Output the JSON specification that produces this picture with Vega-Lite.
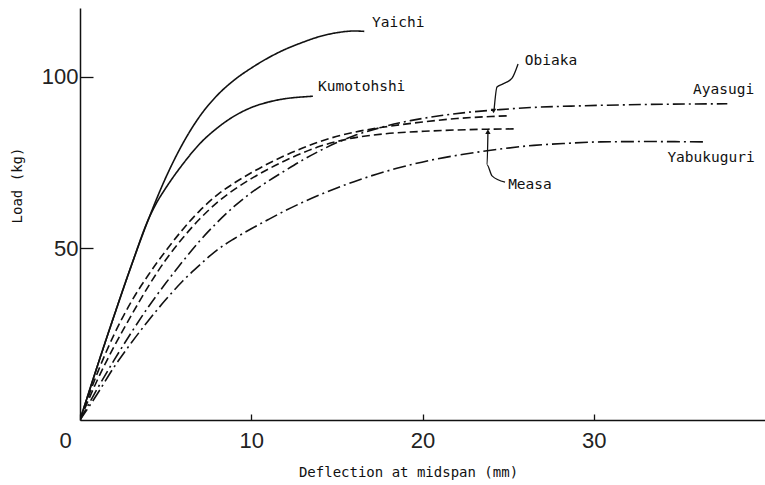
{
  "$schema": "https://vega.github.io/schema/vega-lite/v6.json",
  "autosize": {"type": "none"},
  "padding": {"left": 80, "top": 8, "right": 0, "bottom": 65},
  "width": 685,
  "height": 412,
  "background": "white",
  "config": {
    "view": {"stroke": null},
    "axis": {"domainColor": "#111", "domainWidth": 1.5, "tickColor": "#111", "tickWidth": 1.3, "grid": false,
             "labelFont": "Liberation Sans", "labelFontSize": 22, "labelColor": "#222",
             "titleFont": "DejaVu Sans Mono", "titleFontSize": 14, "titleFontWeight": "normal", "titleColor": "#111"}
  },
  "datasets": {
    "curves": [
      {"series": "Yaichi", "x": 0, "load": 0}, {"series": "Yaichi", "x": 1, "load": 15.5}, {"series": "Yaichi", "x": 2, "load": 30.5},
      {"series": "Yaichi", "x": 3, "load": 45}, {"series": "Yaichi", "x": 4, "load": 58.5}, {"series": "Yaichi", "x": 5, "load": 70.5},
      {"series": "Yaichi", "x": 6, "load": 80.5}, {"series": "Yaichi", "x": 7, "load": 88.5}, {"series": "Yaichi", "x": 8, "load": 94.5},
      {"series": "Yaichi", "x": 9, "load": 99}, {"series": "Yaichi", "x": 10, "load": 102.5}, {"series": "Yaichi", "x": 11, "load": 105.5},
      {"series": "Yaichi", "x": 12, "load": 108}, {"series": "Yaichi", "x": 13, "load": 110}, {"series": "Yaichi", "x": 14, "load": 111.7},
      {"series": "Yaichi", "x": 15, "load": 112.8}, {"series": "Yaichi", "x": 16, "load": 113.3}, {"series": "Yaichi", "x": 16.6, "load": 113.2},
      {"series": "Kumotohshi", "x": 0, "load": 0}, {"series": "Kumotohshi", "x": 1, "load": 15.5}, {"series": "Kumotohshi", "x": 2, "load": 30.5},
      {"series": "Kumotohshi", "x": 3, "load": 45}, {"series": "Kumotohshi", "x": 4, "load": 58.5}, {"series": "Kumotohshi", "x": 4.5, "load": 63.5},
      {"series": "Kumotohshi", "x": 5, "load": 67.5}, {"series": "Kumotohshi", "x": 6, "load": 74.5}, {"series": "Kumotohshi", "x": 7, "load": 80.5},
      {"series": "Kumotohshi", "x": 8, "load": 85}, {"series": "Kumotohshi", "x": 9, "load": 88.5}, {"series": "Kumotohshi", "x": 10, "load": 91},
      {"series": "Kumotohshi", "x": 11, "load": 92.6}, {"series": "Kumotohshi", "x": 12, "load": 93.6}, {"series": "Kumotohshi", "x": 13, "load": 94.1},
      {"series": "Kumotohshi", "x": 13.6, "load": 94.3},
      {"series": "Obiaka", "x": 0, "load": 0}, {"series": "Obiaka", "x": 1, "load": 13.5}, {"series": "Obiaka", "x": 2, "load": 25},
      {"series": "Obiaka", "x": 3, "load": 34.5}, {"series": "Obiaka", "x": 4, "load": 42.3}, {"series": "Obiaka", "x": 5, "load": 49.2},
      {"series": "Obiaka", "x": 6, "load": 55.5}, {"series": "Obiaka", "x": 7, "load": 61}, {"series": "Obiaka", "x": 8, "load": 65.5},
      {"series": "Obiaka", "x": 9, "load": 69}, {"series": "Obiaka", "x": 10, "load": 72}, {"series": "Obiaka", "x": 11, "load": 74.7},
      {"series": "Obiaka", "x": 12, "load": 77.1}, {"series": "Obiaka", "x": 13, "load": 79.2}, {"series": "Obiaka", "x": 14, "load": 81.1},
      {"series": "Obiaka", "x": 16, "load": 83.8}, {"series": "Obiaka", "x": 18, "load": 85.5}, {"series": "Obiaka", "x": 20, "load": 86.8},
      {"series": "Obiaka", "x": 22, "load": 87.8}, {"series": "Obiaka", "x": 24, "load": 88.4}, {"series": "Obiaka", "x": 25, "load": 88.6},
      {"series": "Measa", "x": 0, "load": 0}, {"series": "Measa", "x": 1, "load": 11.5}, {"series": "Measa", "x": 2, "load": 21.5},
      {"series": "Measa", "x": 3, "load": 30.5}, {"series": "Measa", "x": 4, "load": 39}, {"series": "Measa", "x": 5, "load": 46.6},
      {"series": "Measa", "x": 6, "load": 53}, {"series": "Measa", "x": 7, "load": 58.6}, {"series": "Measa", "x": 8, "load": 63.3},
      {"series": "Measa", "x": 9, "load": 67.1}, {"series": "Measa", "x": 10, "load": 70.3}, {"series": "Measa", "x": 11, "load": 73.1},
      {"series": "Measa", "x": 12, "load": 75.6}, {"series": "Measa", "x": 13, "load": 77.8}, {"series": "Measa", "x": 14, "load": 79.7},
      {"series": "Measa", "x": 15.6, "load": 81.8}, {"series": "Measa", "x": 17.7, "load": 83.3}, {"series": "Measa", "x": 20.6, "load": 84.2},
      {"series": "Measa", "x": 23.8, "load": 84.7}, {"series": "Measa", "x": 25.5, "load": 84.8},
      {"series": "Ayasugi", "x": 0, "load": 0}, {"series": "Ayasugi", "x": 1, "load": 9}, {"series": "Ayasugi", "x": 2, "load": 17.5},
      {"series": "Ayasugi", "x": 3, "load": 25.5}, {"series": "Ayasugi", "x": 4, "load": 33}, {"series": "Ayasugi", "x": 5, "load": 39.8},
      {"series": "Ayasugi", "x": 6, "load": 46.2}, {"series": "Ayasugi", "x": 7, "load": 52.2}, {"series": "Ayasugi", "x": 8, "load": 57.5},
      {"series": "Ayasugi", "x": 9, "load": 62.2}, {"series": "Ayasugi", "x": 10, "load": 66.2}, {"series": "Ayasugi", "x": 11, "load": 69.6},
      {"series": "Ayasugi", "x": 12, "load": 72.7}, {"series": "Ayasugi", "x": 13, "load": 75.7}, {"series": "Ayasugi", "x": 14, "load": 78.4},
      {"series": "Ayasugi", "x": 15, "load": 80.8}, {"series": "Ayasugi", "x": 16, "load": 82.8}, {"series": "Ayasugi", "x": 17.5, "load": 85.1},
      {"series": "Ayasugi", "x": 19.3, "load": 87.2}, {"series": "Ayasugi", "x": 21, "load": 88.6}, {"series": "Ayasugi", "x": 22.6, "load": 89.6},
      {"series": "Ayasugi", "x": 24.5, "load": 90.4}, {"series": "Ayasugi", "x": 26.3, "load": 91}, {"series": "Ayasugi", "x": 29.2, "load": 91.5},
      {"series": "Ayasugi", "x": 33.1, "load": 91.9}, {"series": "Ayasugi", "x": 37.8, "load": 92.1},
      {"series": "Yabukuguri", "x": 0, "load": 0}, {"series": "Yabukuguri", "x": 1, "load": 7.5}, {"series": "Yabukuguri", "x": 2, "load": 15.5},
      {"series": "Yabukuguri", "x": 3, "load": 22.5}, {"series": "Yabukuguri", "x": 4, "load": 29}, {"series": "Yabukuguri", "x": 5, "load": 35},
      {"series": "Yabukuguri", "x": 6, "load": 40.5}, {"series": "Yabukuguri", "x": 7, "load": 45.2}, {"series": "Yabukuguri", "x": 8, "load": 49.5},
      {"series": "Yabukuguri", "x": 9, "load": 52.8}, {"series": "Yabukuguri", "x": 10, "load": 55.7}, {"series": "Yabukuguri", "x": 11, "load": 58.4},
      {"series": "Yabukuguri", "x": 12, "load": 61}, {"series": "Yabukuguri", "x": 13, "load": 63.4}, {"series": "Yabukuguri", "x": 14, "load": 65.6},
      {"series": "Yabukuguri", "x": 15, "load": 67.6}, {"series": "Yabukuguri", "x": 16, "load": 69.4}, {"series": "Yabukuguri", "x": 17, "load": 71.1},
      {"series": "Yabukuguri", "x": 18.5, "load": 73.3}, {"series": "Yabukuguri", "x": 20.4, "load": 75.6}, {"series": "Yabukuguri", "x": 22.4, "load": 77.4},
      {"series": "Yabukuguri", "x": 24.5, "load": 78.9}, {"series": "Yabukuguri", "x": 26.5, "load": 80}, {"series": "Yabukuguri", "x": 28.5, "load": 80.6},
      {"series": "Yabukuguri", "x": 30.4, "load": 81}, {"series": "Yabukuguri", "x": 33, "load": 81.1}, {"series": "Yabukuguri", "x": 36.6, "load": 81}
    ],
    "labels": [
      {"label": "Yaichi", "x": 17.05, "load": 115.6},
      {"label": "Kumotohshi", "x": 13.9, "load": 96.9},
      {"label": "Obiaka", "x": 25.97, "load": 104.7},
      {"label": "Ayasugi", "x": 35.8, "load": 96.1},
      {"label": "Yabukuguri", "x": 34.3, "load": 76.3},
      {"label": "Measa", "x": 25.0, "load": 68.5}
    ],
    "leaders": [
      {"id": "Obiaka", "step": 1, "x": 25.58, "load": 103.7},
      {"id": "Obiaka", "step": 2, "x": 25.23, "load": 99.6},
      {"id": "Obiaka", "step": 3, "x": 24.7, "load": 97.9},
      {"id": "Obiaka", "step": 4, "x": 24.35, "load": 97.0},
      {"id": "Obiaka", "step": 5, "x": 24.18, "load": 90.3},
      {"id": "Measa", "step": 1, "x": 24.82, "load": 69.3},
      {"id": "Measa", "step": 2, "x": 24.06, "load": 71.1},
      {"id": "Measa", "step": 3, "x": 23.77, "load": 74.3},
      {"id": "Measa", "step": 4, "x": 23.82, "load": 83.6}
    ],
    "arrows": [
      {"id": "Obiaka", "dir": "down", "x": 24.15, "load": 90.0},
      {"id": "Measa", "dir": "up", "x": 23.82, "load": 84.0}
    ]
  },
  "layer": [
    {
      "data": {"name": "curves"},
      "mark": {"type": "line", "color": "#111", "strokeWidth": 1.6, "interpolate": "monotone", "clip": true},
      "encoding": {
        "x": {"field": "x", "type": "quantitative", "scale": {"domain": [0, 40], "nice": false},
              "axis": {"values": [0, 10, 20, 30], "tickSize": -6, "labelPadding": 16, "labelFlush": false,
                       "labelOffset": {"condition": {"test": "datum.value === 0", "value": -15}, "value": 0},
                       "title": "Deflection at midspan (mm)", "titleX": 328, "titleY": 52, "titleBaseline": "middle"}},
        "y": {"field": "load", "type": "quantitative", "scale": {"domain": [0, 120], "nice": false},
              "axis": {"values": [50, 100], "tickSize": -13, "labelPadding": 15, "title": "Load (kg)",
                       "titleX": -63, "titleY": 177, "titleAngle": -90, "titleAlign": "center", "titleBaseline": "middle"}},
        "detail": {"field": "series"},
        "strokeDash": {"field": "series", "type": "nominal", "legend": null,
                       "scale": {"domain": ["Yaichi", "Kumotohshi", "Obiaka", "Measa", "Ayasugi", "Yabukuguri"],
                                 "range": [[1, 0], [1, 0], [8, 4], [8, 4], [12, 4, 2, 4], [13, 4, 2, 4]]}}
      }
    },
    {
      "data": {"name": "labels"},
      "mark": {"type": "text", "align": "left", "baseline": "middle", "font": "DejaVu Sans Mono", "fontSize": 14.5, "color": "#111"},
      "encoding": {
        "x": {"field": "x", "type": "quantitative"},
        "y": {"field": "load", "type": "quantitative"},
        "text": {"field": "label"}
      }
    },
    {
      "data": {"name": "leaders"},
      "mark": {"type": "line", "color": "#111", "strokeWidth": 1.3, "interpolate": "monotone"},
      "encoding": {
        "x": {"field": "x", "type": "quantitative"},
        "y": {"field": "load", "type": "quantitative"},
        "detail": {"field": "id"},
        "order": {"field": "step"}
      }
    },
    {
      "data": {"name": "arrows"},
      "mark": {"type": "point", "filled": true, "color": "#111", "size": 28, "opacity": 1},
      "encoding": {
        "x": {"field": "x", "type": "quantitative"},
        "y": {"field": "load", "type": "quantitative"},
        "shape": {"field": "dir", "type": "nominal", "legend": null,
                  "scale": {"domain": ["up", "down"], "range": ["triangle-up", "triangle-down"]}}
      }
    },
    {
      "mark": {"type": "rule", "color": "#111", "strokeWidth": 1.5},
      "encoding": {"y": {"datum": 120}}
    }
  ]
}
